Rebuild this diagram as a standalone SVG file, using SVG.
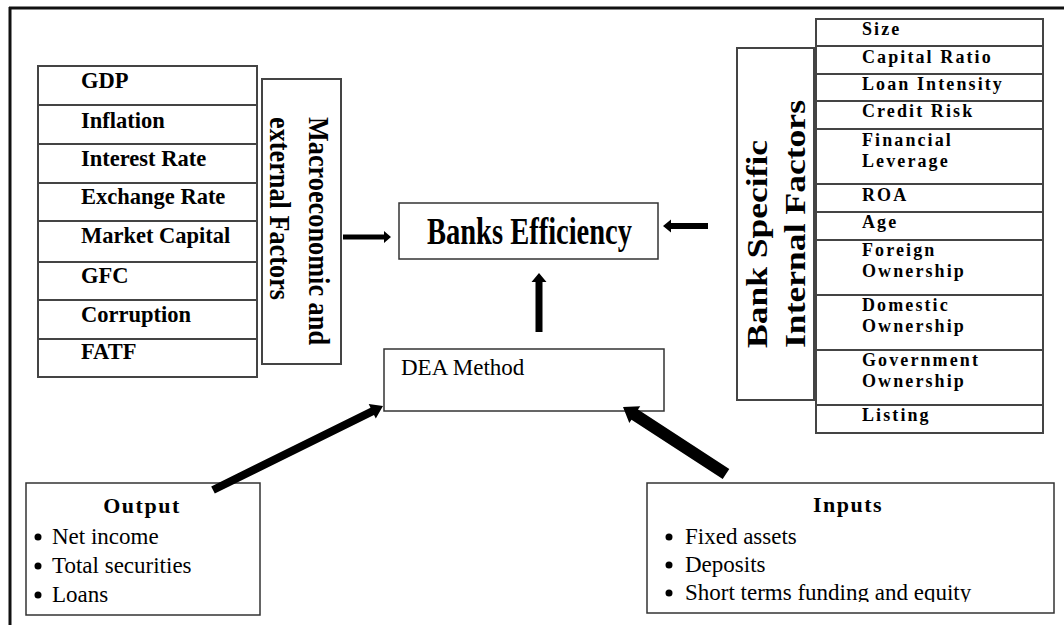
<svg xmlns="http://www.w3.org/2000/svg" width="1064" height="625" viewBox="0 0 1064 625">
<style>
.box{fill:#fff;stroke:#333;stroke-width:1.5}
.tb{fill:none;stroke:#444;stroke-width:2}
.rl{stroke:#444;stroke-width:2}
.lt{font-family:"Liberation Serif",serif;font-weight:bold;font-size:22.5px;fill:#000}
.rt{font-family:"Liberation Serif",serif;font-weight:bold;font-size:18px;letter-spacing:2.1px;fill:#000}
.vt{font-family:"Liberation Serif",serif;font-weight:bold;fill:#000}
.reg{font-family:"Liberation Serif",serif;font-size:23px;fill:#000}
.hd{font-family:"Liberation Serif",serif;font-weight:bold;font-size:22px;letter-spacing:1.5px;fill:#000;text-anchor:middle}
.arr{fill:#000}
</style>
<defs>
<clipPath id="inclip"><rect x="647" y="483" width="407" height="119"/></clipPath>
</defs>
<rect x="0" y="0" width="1064" height="625" fill="#fff"/>
<g id="frame">
<line x1="9" y1="8" x2="1064" y2="8" stroke="#111" stroke-width="3"/>
<line x1="10" y1="7" x2="10" y2="625" stroke="#111" stroke-width="3"/>
</g>
<g id="macro-list">
<rect class="tb" x="38" y="66" width="219" height="311"/>
<line class="rl" x1="38" y1="105" x2="257" y2="105"/>
<line class="rl" x1="38" y1="144" x2="257" y2="144"/>
<line class="rl" x1="38" y1="183" x2="257" y2="183"/>
<line class="rl" x1="38" y1="221" x2="257" y2="221"/>
<line class="rl" x1="38" y1="262" x2="257" y2="262"/>
<line class="rl" x1="38" y1="300" x2="257" y2="300"/>
<line class="rl" x1="38" y1="339" x2="257" y2="339"/>
<text class="lt" x="81" y="88">GDP</text>
<text class="lt" x="81" y="128">Inflation</text>
<text class="lt" x="81" y="166">Interest Rate</text>
<text class="lt" x="81" y="204">Exchange Rate</text>
<text class="lt" x="81" y="243">Market Capital</text>
<text class="lt" x="81" y="283">GFC</text>
<text class="lt" x="81" y="322">Corruption</text>
<text class="lt" x="81" y="359">FATF</text>
</g>
<g id="macro-title">
<rect class="tb" x="262" y="79" width="79" height="285"/>
<text class="vt" font-size="29" transform="translate(309,117) rotate(90)" textLength="228" lengthAdjust="spacingAndGlyphs">Macroeconomic and</text>
<text class="vt" font-size="29" transform="translate(270,117) rotate(90)" textLength="183" lengthAdjust="spacingAndGlyphs">external Factors</text>
</g>
<g id="banks-efficiency">
<rect class="box" x="399" y="203" width="259" height="56"/>
<text class="vt" font-size="38" x="427" y="244" textLength="205" lengthAdjust="spacingAndGlyphs">Banks Efficiency</text>
</g>
<g id="bank-title">
<rect class="tb" x="737" y="48" width="77" height="352"/>
<text class="vt" font-size="30" transform="translate(767,348) rotate(-90)" textLength="208" lengthAdjust="spacingAndGlyphs">Bank Specific</text>
<text class="vt" font-size="30" transform="translate(805,348) rotate(-90)" textLength="248" lengthAdjust="spacingAndGlyphs">Internal Factors</text>
</g>
<g id="bank-list">
<rect class="tb" x="816" y="19" width="227" height="414"/>
<line class="rl" x1="816" y1="46" x2="1043" y2="46"/>
<line class="rl" x1="816" y1="74" x2="1043" y2="74"/>
<line class="rl" x1="816" y1="101" x2="1043" y2="101"/>
<line class="rl" x1="816" y1="129" x2="1043" y2="129"/>
<line class="rl" x1="816" y1="184" x2="1043" y2="184"/>
<line class="rl" x1="816" y1="212" x2="1043" y2="212"/>
<line class="rl" x1="816" y1="240" x2="1043" y2="240"/>
<line class="rl" x1="816" y1="295" x2="1043" y2="295"/>
<line class="rl" x1="816" y1="350" x2="1043" y2="350"/>
<line class="rl" x1="816" y1="405" x2="1043" y2="405"/>
<text class="rt" x="862" y="35">Size</text>
<text class="rt" x="862" y="63">Capital Ratio</text>
<text class="rt" x="862" y="90">Loan Intensity</text>
<text class="rt" x="862" y="117">Credit Risk</text>
<text class="rt" x="862" y="146">Financial</text>
<text class="rt" x="862" y="167">Leverage</text>
<text class="rt" x="862" y="201">ROA</text>
<text class="rt" x="862" y="228">Age</text>
<text class="rt" x="862" y="256">Foreign</text>
<text class="rt" x="862" y="277">Ownership</text>
<text class="rt" x="862" y="311">Domestic</text>
<text class="rt" x="862" y="332">Ownership</text>
<text class="rt" x="862" y="366">Government</text>
<text class="rt" x="862" y="387">Ownership</text>
<text class="rt" x="862" y="421">Listing</text>
</g>
<g id="dea-method">
<rect class="box" x="384" y="349" width="280" height="62"/>
<text class="reg" x="401" y="375">DEA Method</text>
</g>
<g id="output">
<rect class="box" x="26" y="483" width="234" height="132"/>
<text class="hd" x="142" y="513">Output</text>
<circle cx="38" cy="537" r="3.5"/>
<circle cx="38" cy="566" r="3.5"/>
<circle cx="38" cy="595" r="3.5"/>
<text class="reg" x="52" y="544">Net income</text>
<text class="reg" x="52" y="573">Total securities</text>
<text class="reg" x="52" y="602">Loans</text>
</g>
<g id="inputs">
<rect class="box" x="647" y="483" width="407" height="130"/>
<text class="hd" x="848" y="512">Inputs</text>
<circle cx="669" cy="537" r="3.5"/>
<circle cx="669" cy="565" r="3.5"/>
<circle cx="669" cy="593" r="3.5"/>
<text class="reg" x="685" y="544">Fixed assets</text>
<text class="reg" x="685" y="572">Deposits</text>
<text class="reg" x="685" y="600" clip-path="url(#inclip)">Short terms funding and equity</text>
</g>
<g id="connectors">
<polygon class="arr" points="343,234.5 384,234.5 384,231 391,237 384,243 384,239.5 343,239.5"/>
<polygon class="arr" points="708,223 671,223 671,219.5 663,226 671,232.5 671,229 708,229"/>
<polygon class="arr" points="535.5,332 535.5,282 531.5,282 539,273 546.5,282 542.5,282 542.5,332"/>
<polygon class="arr" points="211.2,486.4 370.5,407.7 368.7,404.1 383,406 375.8,418.5 374.0,414.9 214.8,493.6"/>
<polygon class="arr" points="729.3,469.0 638.0,409.6 640.2,406.3 623,407 629.3,423.0 631.5,419.7 722.7,479.0"/>
</g>
</svg>
